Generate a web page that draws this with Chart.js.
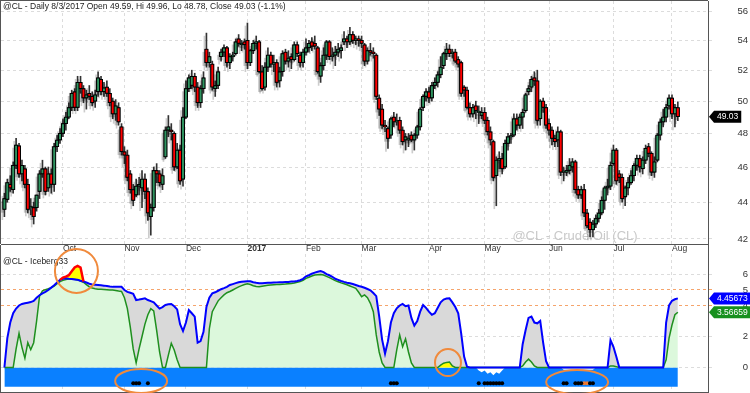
<!DOCTYPE html>
<html>
<head>
<meta charset="utf-8">
<script src="https://cdn.jsdelivr.net/npm/chart.js@4.4.1/dist/chart.umd.min.js"></script>
<style>
  html, body { margin: 0; padding: 0; background: #fff; }
  #wrap { position: relative; width: 750px; height: 393px; overflow: hidden; }
  #priceBox { position: absolute; left: 0; top: 0; width: 750px; height: 245px; }
  #indBox { position: absolute; left: 0; top: 245px; width: 750px; height: 148px; }
</style>
</head>
<body>
<div id="wrap">
  <div id="priceBox"><canvas id="priceChart"></canvas></div>
  <div id="indBox"><canvas id="indChart"></canvas></div>
</div>
<script>
// daily bars, 2 Sep 2016 .. 3 Aug 2017 (index = trading day)
const opens = [
  43.6, 44.15, 45.0, 44.7, 46.1, 47.25, 45.6, 45.9, 45.0, 43.7,
  43.7, 43.7, 44.6, 45.6, 45.9, 44.8, 45.6, 45.0, 47.2, 47.6,
  48.0, 48.6, 49.0, 49.6, 50.6, 49.6, 51.2, 50.8, 50.2, 50.5,
  50.3, 50.0, 50.6, 51.4, 50.6, 50.9, 50.5, 50.0, 49.2, 49.6,
  48.4, 46.9, 46.7, 45.6, 44.7, 44.4, 44.9, 44.8, 45.3, 44.6,
  43.2, 43.7, 45.8, 45.6, 45.0, 46.6, 48.2, 48.2, 48.0, 46.0,
  47.0, 45.3, 49.0, 50.8, 51.0, 51.6, 50.9, 49.9, 50.8, 53.4,
  52.5, 52.4, 50.8, 51.0, 52.9, 53.2, 53.5, 52.5, 52.9, 53.1,
  54.1, 53.7, 53.9, 54.0, 52.5, 53.3, 53.8, 53.9, 51.9, 50.9,
  52.2, 53.0, 52.4, 52.5, 51.3, 51.9, 53.2, 52.6, 52.9, 52.7,
  53.7, 53.0, 52.5, 53.2, 53.5, 53.9, 53.8, 53.5, 51.6, 52.3,
  53.0, 53.9, 52.9, 53.0, 53.2, 53.3, 53.9, 54.1, 53.9, 54.4,
  54.0, 54.1, 54.0, 53.7, 52.6, 53.3, 53.2, 53.0, 50.2, 49.5,
  48.5, 48.3, 47.9, 49.0, 48.7, 48.8, 48.2, 47.6, 47.6, 47.9,
  47.6, 47.9, 48.4, 49.6, 50.3, 50.6, 50.2, 51.0, 51.2, 51.7,
  52.3, 53.1, 53.4, 53.1, 53.2, 52.7, 52.5, 50.9, 50.7, 49.6,
  49.2, 49.7, 49.3, 49.1, 49.3, 48.8, 48.1, 47.5, 45.5, 46.4,
  46.5, 46.0, 47.4, 47.8, 47.9, 48.9, 48.5, 49.0, 49.4, 50.6,
  50.9, 51.5, 51.3, 48.9, 50.0, 49.6, 48.6, 48.2, 47.7, 47.6,
  48.1, 45.7, 45.7, 45.8, 46.0, 46.3, 44.7, 44.4, 44.7, 43.4,
  42.9, 42.5, 42.8, 43.1, 43.4, 44.1, 44.8, 44.9, 46.2, 47.0,
  45.6, 45.4, 44.3, 44.8, 45.1, 45.5, 46.1, 46.5, 45.9, 46.4,
  47.2, 46.8, 45.7, 46.4, 47.9, 48.7, 49.0, 49.7, 50.2, 49.2, 49.59
];
const highs = [
  44.5, 45.3, 45.5, 46.3, 47.7, 47.4, 46.4, 46.1, 45.3, 44.2,
  44.0, 44.4, 45.8, 46.4, 46.0, 46.0, 45.9, 47.4, 47.9, 48.3,
  48.9, 49.3, 49.9, 50.7, 50.8, 51.6, 51.6, 51.0, 50.7, 51.0,
  50.6, 50.7, 51.9, 51.6, 51.2, 51.3, 50.8, 50.2, 50.1, 49.9,
  48.6, 47.2, 47.0, 45.8, 45.0, 45.3, 45.4, 45.8, 45.6, 44.8,
  43.9, 46.0, 46.2, 45.8, 45.9, 48.4, 49.1, 48.6, 48.1, 47.4,
  47.3, 49.6, 51.3, 51.7, 52.0, 51.8, 51.2, 51.0, 51.9, 54.5,
  53.2, 52.6, 51.3, 52.2, 53.4, 53.7, 53.6, 53.1, 53.2, 54.1,
  54.4, 54.0, 54.1, 55.2, 53.4, 54.0, 54.3, 54.0, 52.3, 52.5,
  53.5, 53.2, 53.0, 52.7, 52.2, 53.3, 53.4, 53.3, 53.1, 53.9,
  53.9, 53.2, 53.4, 54.1, 54.0, 54.2, 54.3, 53.6, 52.5, 53.5,
  54.0, 54.0, 53.5, 53.6, 53.8, 53.7, 54.6, 54.3, 54.9, 54.6,
  54.3, 54.3, 54.3, 53.8, 53.5, 53.8, 53.5, 53.1, 50.4, 49.8,
  48.8, 48.4, 49.0, 49.3, 49.2, 49.0, 48.4, 48.0, 48.0, 48.1,
  48.0, 48.5, 49.6, 50.4, 50.8, 50.9, 51.2, 51.5, 51.9, 52.9,
  53.2, 53.8, 53.7, 53.4, 53.4, 52.9, 52.6, 51.0, 50.9, 49.9,
  49.8, 50.0, 49.7, 49.6, 49.6, 49.0, 48.4, 47.6, 46.6, 46.9,
  46.8, 47.6, 48.0, 48.0, 49.2, 49.2, 49.2, 49.5, 50.5, 51.0,
  51.6, 51.9, 52.0, 50.1, 50.2, 49.8, 48.9, 48.4, 47.9, 48.4,
  48.2, 46.0, 46.1, 46.5, 46.5, 46.4, 44.9, 44.9, 45.0, 43.6,
  43.1, 43.0, 43.3, 43.6, 44.3, 44.9, 45.3, 46.3, 47.3, 47.1,
  45.8, 45.6, 44.9, 45.4, 45.8, 46.2, 46.7, 46.7, 46.6, 47.3,
  47.4, 46.9, 46.6, 48.0, 48.9, 49.5, 49.8, 50.4, 50.4, 49.8, 49.96
];
const lows = [
  43.2, 44.0, 44.6, 44.5, 45.9, 45.4, 45.2, 44.8, 43.4, 43.3,
  42.8, 43.5, 44.2, 45.4, 44.4, 44.6, 44.5, 44.6, 46.9, 47.4,
  47.8, 48.2, 48.9, 49.4, 49.4, 49.4, 50.5, 49.9, 49.5, 50.1,
  49.7, 49.6, 50.3, 50.4, 50.3, 50.3, 49.7, 48.9, 48.8, 48.5,
  46.7, 46.2, 45.2, 44.5, 43.8, 44.3, 44.4, 43.7, 44.2, 43.0,
  42.2, 43.5, 45.1, 44.9, 44.7, 46.5, 47.8, 47.6, 45.8, 45.9,
  45.0, 44.9, 48.9, 50.6, 50.8, 50.6, 49.6, 49.6, 50.5, 52.2,
  52.2, 50.7, 50.3, 50.8, 52.6, 52.9, 52.2, 52.1, 52.6, 53.0,
  53.6, 53.3, 53.4, 52.1, 52.3, 53.1, 53.4, 51.8, 50.7, 50.7,
  51.9, 52.2, 51.9, 50.9, 50.9, 51.6, 52.4, 52.2, 52.1, 52.6,
  52.9, 52.2, 52.2, 53.0, 53.2, 53.3, 53.4, 51.8, 51.2, 52.0,
  52.7, 52.7, 52.6, 52.3, 52.9, 52.8, 53.7, 53.5, 53.7, 53.8,
  53.7, 53.6, 53.5, 52.3, 52.4, 53.0, 52.8, 50.1, 49.1, 48.3,
  48.1, 47.1, 47.7, 48.4, 48.5, 48.0, 47.3, 47.0, 47.2, 47.5,
  47.0, 47.7, 48.2, 49.4, 50.0, 49.9, 50.0, 50.8, 50.9, 51.5,
  52.1, 52.7, 52.9, 52.8, 52.5, 52.2, 50.3, 50.3, 49.5, 49.0,
  49.0, 48.9, 48.6, 48.9, 48.6, 47.9, 47.3, 45.2, 43.8, 45.9,
  45.6, 45.9, 47.0, 47.4, 47.8, 48.2, 48.3, 48.3, 49.3, 50.4,
  50.6, 51.0, 48.5, 48.5, 49.3, 48.3, 47.9, 47.3, 47.2, 47.2,
  45.5, 45.2, 45.5, 45.6, 45.7, 44.5, 44.2, 44.2, 43.2, 42.6,
  42.1, 42.1, 42.6, 42.9, 43.3, 43.6, 44.4, 44.7, 46.1, 45.0,
  45.1, 44.0, 43.8, 44.4, 45.0, 45.2, 45.8, 45.7, 45.6, 46.2,
  46.6, 45.5, 45.4, 46.3, 47.6, 48.4, 48.7, 49.5, 48.9, 48.4, 48.78
];
const closes = [
  44.2, 45.1, 44.8, 46.1, 47.3, 45.6, 46.1, 45.0, 43.6, 43.7,
  43.2, 44.4, 45.6, 45.9, 44.6, 45.6, 45.0, 47.2, 47.6, 48.0,
  48.6, 49.0, 49.6, 50.5, 49.6, 51.2, 50.8, 50.2, 50.4, 50.3,
  49.9, 50.4, 51.5, 50.6, 50.85, 50.5, 49.9, 49.2, 49.7, 48.7,
  46.9, 46.7, 45.4, 44.7, 44.1, 44.9, 45.0, 45.3, 44.6, 43.4,
  43.7, 45.8, 45.6, 45.1, 45.5, 48.2, 48.4, 48.1, 46.0, 47.0,
  45.2, 49.0, 50.8, 51.5, 51.6, 50.9, 49.9, 50.8, 51.5, 52.5,
  52.9, 50.9, 51.0, 51.9, 53.2, 53.5, 52.5, 52.9, 53.0, 53.9,
  53.8, 53.8, 53.7, 52.5, 53.3, 53.8, 53.9, 51.9, 50.8, 52.2,
  53.0, 52.4, 52.5, 51.2, 51.9, 53.1, 52.6, 52.8, 52.7, 53.7,
  53.1, 52.5, 53.2, 53.5, 53.8, 53.6, 53.6, 51.9, 52.3, 53.0,
  53.9, 52.9, 53.0, 53.2, 53.4, 53.5, 54.1, 53.9, 54.4, 54.0,
  54.1, 54.0, 53.8, 52.6, 53.3, 53.2, 53.1, 50.3, 49.5, 48.5,
  48.4, 47.7, 48.9, 48.7, 48.8, 48.2, 47.5, 47.8, 47.7, 47.6,
  47.9, 48.4, 49.5, 50.3, 50.6, 50.2, 51.0, 51.2, 51.7, 52.2,
  53.1, 53.4, 53.1, 53.2, 52.6, 52.4, 50.5, 50.7, 49.6, 49.2,
  49.6, 49.4, 49.3, 49.3, 48.8, 48.1, 47.6, 45.4, 46.4, 46.5,
  45.9, 47.4, 47.8, 47.85, 48.9, 48.5, 49.0, 49.3, 50.4, 50.8,
  51.4, 51.3, 48.8, 50.0, 49.6, 48.5, 48.2, 47.7, 47.5, 48.1,
  45.7, 45.7, 45.8, 46.1, 46.3, 44.7, 44.4, 44.7, 43.4, 42.7,
  42.5, 42.8, 43.1, 43.4, 44.1, 44.8, 44.9, 46.1, 47.0, 45.2,
  45.4, 44.2, 44.8, 45.1, 45.5, 46.1, 46.5, 46.0, 46.4, 47.1,
  46.8, 45.7, 46.3, 47.9, 48.7, 49.0, 49.6, 50.2, 49.2, 49.6, 49.03
];

const priceTicks = [42, 44, 46, 48, 50, 52, 54, 56];
const monthLabels = ['Oct', 'Nov', 'Dec', '2017', 'Feb', 'Mar', 'Apr', 'May', 'Jun', 'Jul', 'Aug'];
const monthIdx = [20, 41, 62, 83, 103, 122, 145, 164, 186, 208, 228];

// Iceberg33 indicator
const iceHigh = [
  0, 1.9, 2.9, 3.5, 3.8, 4.0, 4.1, 4.14, 4.18, 4.22,
  4.3, 4.5, 4.66, 4.78, 4.88, 5.0, 5.15, 5.3, 5.48, 5.65,
  5.72, 5.75, 5.72, 5.7, 5.68, 5.66, 5.6, 5.55, 5.48, 5.4,
  5.36, 5.34, 5.32, 5.3, 5.28, 5.25, 5.22, 5.2, 5.2, 5.2,
  5.2, 5.0, 4.88, 4.82, 4.75, 4.35, 4.38, 4.42, 4.46, 4.35,
  4.28, 4.2, 4.0, 3.8, 3.9, 4.03, 4.08, 4.1, 3.95, 3.75,
  2.8, 2.35, 2.9, 3.7, 3.5, 3.28, 1.6, 1.7, 2.3, 3.9,
  4.5, 4.78, 4.85, 4.95, 5.05, 5.12, 5.2, 5.32, 5.38, 5.44,
  5.5, 5.53, 5.55, 5.57, 5.56, 5.5, 5.46, 5.43, 5.44, 5.45,
  5.46, 5.47, 5.48, 5.49, 5.5, 5.5, 5.51, 5.52, 5.54, 5.55,
  5.58, 5.63, 5.72, 5.88, 5.95, 6.05, 6.12, 6.17, 6.22, 6.15,
  6.02, 5.95, 5.85, 5.72, 5.65, 5.58, 5.52, 5.47, 5.43, 5.38,
  5.32, 5.26, 5.21, 5.14, 5.06, 4.98, 4.8, 4.6, 3.3, 1.8,
  0.9, 1.7, 2.9, 3.5, 3.82, 4.0, 4.1, 3.95, 4.0, 3.2,
  2.7, 3.0, 3.6, 4.03, 3.85, 3.6, 3.4, 3.5, 3.85, 4.2,
  4.38, 4.45, 4.46, 4.2, 3.9, 3.5, 2.2, 0.7, 0.05, 0,
  0, 0, 0, 0, 0, 0, 0, 0, 0, 0,
  0, 0, 0, 0, 0, 0, 0, 1.5, 2.4, 3.2,
  3.28, 2.9, 2.85, 3.0, 1.6, 0.4, 0, 0, 0, 0,
  0, 0, 0, 0, 0, 0, 0, 0, 0, 0,
  0, 0, 0, 0, 0, 0, 0, 1.77, 1.34, 0.7,
  0, 0, 0, 0, 0, 0, 0, 0, 0, 0,
  0, 0, 0, 0, 0, 0, 2.9, 4.0, 4.3, 4.4, 4.45673
];
const iceLow = [
  0, 0, 0, 0, 1.2, 2.2, 1.3, 0.6, 1.6, 1.15,
  1.6, 3.0, 4.6, 4.95, 5.02, 5.08, 5.15, 5.25, 5.4, 5.54,
  5.62, 5.68, 5.7, 5.7, 5.69, 5.65, 5.58, 5.5, 5.35, 5.2,
  5.13, 5.08, 5.05, 5.04, 5.03, 5.02, 5.0, 5.0, 4.97, 4.93,
  4.9, 4.5, 3.8, 2.6, 1.2, 0.3, 1.2, 2.0, 2.8, 3.4,
  3.8, 3.65, 2.4, 1.0, 0, 0, 0.8, 1.56, 1.13, 0.5,
  0, 0, 0, 0, 0, 0, 0, 0, 0, 0,
  2.5, 3.6, 3.95, 4.3, 4.5, 4.68, 4.82, 4.9, 5.0, 5.1,
  5.2, 5.28, 5.35, 5.4, 5.35, 5.27, 5.22, 5.21, 5.24, 5.27,
  5.3, 5.32, 5.34, 5.35, 5.36, 5.37, 5.38, 5.4, 5.42, 5.45,
  5.5, 5.54, 5.62, 5.75, 5.82, 5.9, 5.96, 5.98, 6.0, 5.96,
  5.88, 5.8, 5.7, 5.6, 5.53, 5.46, 5.4, 5.34, 5.26, 5.18,
  5.1, 4.85, 4.57, 4.68, 4.5, 4.14, 3.6, 2.1, 1.0, 0.3,
  0, 0, 0, 0, 1.13, 2.1, 1.34, 1.85, 1.0, 0.3,
  0, 0, 0, 0, 0, 0, 0, 0, 0, 0.15,
  0.28, 0.33, 0.35, 0.1, 0, 0, 0, 0, 0, 0,
  0, 0, 0, 0, 0, 0, 0, 0, 0, 0,
  0, 0, 0, 0, 0, 0, 0, 0.1, 0.35, 0.54,
  0.35, 0.1, 0, 0, 0, 0, 0, 0, 0, 0,
  0, 0, 0, 0, 0, 0, 0, 0, 0, 0,
  0, 0, 0, 0, 0, 0, 0, 0.1, 0.1, 0.05,
  0, 0, 0, 0, 0, 0, 0, 0, 0, 0,
  0, 0, 0, 0, 0, 0, 0.5, 1.9, 2.74, 3.4, 3.56659
];
const peakStart = 19;
const peakVals = [5.65, 5.8, 5.86, 5.95, 6.2, 6.45, 6.55, 6.45, 5.55];
const bumpStart = 148;
const bumpVals = [0, 0.15, 0.28, 0.33, 0.35, 0.1, 0];
const dipStartA = 161;
const dipValsA = [0, -0.2, -0.3, -0.2, -0.4, -0.3, -0.5, -0.3, -0.4, -0.2, 0];
const dipStartB = 190;
const dipValsB = [0, -0.15, -0.15, -0.15, -0.15, -0.15, -0.15, -0.15, -0.15, -0.15, -0.15, -0.15, 0];
const blackDots = [44, 45, 46, 49, 132, 133, 134, 162, 164, 165, 166, 167, 168, 169, 170, 191, 192, 195, 196, 197, 200, 201];
const orangeDots = [198, 199];
const DOT_LEVEL = -1.02;
const BAND_LOW = -1.24;
const indTicks = [0, 2, 4, 5, 6];

const X_MIN = -1.16, X_MAX = 240.3;
const FONT = '"Liberation Sans", Arial, sans-serif';
const GREEN = '#2f9460', RED = '#ff0000';
Chart.defaults.font.family = FONT;

const xy = (vals, start = 0) => vals.map((v, k) => ({ x: start + k, y: v }));
const bodyData = closes.map((c, i) => ({ x: i, y: [opens[i], c] }));
const wickData = closes.map((c, i) => ({ x: i, y: [lows[i], highs[i]] }));
const bodyColors = closes.map((c, i) => (c >= opens[i] ? GREEN : RED));

function monthTicks(scale) {
  scale.ticks = monthIdx.map(v => ({ value: v }));
}
// keep the plot area edge to edge (no room reserved for end labels)
function noPad(s) {
  s.paddingTop = 0; s.paddingBottom = 0; s.paddingLeft = 0; s.paddingRight = 0;
}

function drawTag(ctx, x, y, text, bg) {
  ctx.save();
  ctx.font = '8.5px ' + FONT;
  const w = ctx.measureText(text).width + 6;
  ctx.fillStyle = bg;
  ctx.beginPath();
  ctx.moveTo(x, y);
  ctx.lineTo(x + 5, y - 6);
  ctx.lineTo(x + 5 + w, y - 6);
  ctx.lineTo(x + 5 + w, y + 6);
  ctx.lineTo(x + 5, y + 6);
  ctx.closePath();
  ctx.fill();
  ctx.fillStyle = '#fff';
  ctx.textAlign = 'left';
  ctx.textBaseline = 'middle';
  ctx.fillText(text, x + 8, y + 0.5);
  ctx.restore();
}

// candle shadows + watermark + frame for the price panel
const pricePlugin = {
  id: 'pricePlugin',
  beforeDatasetsDraw(chart) {
    const { ctx, chartArea } = chart;
    ctx.save();
    ctx.font = '13px ' + FONT;
    ctx.fillStyle = '#c9c9c9';
    ctx.textAlign = 'center';
    ctx.textBaseline = 'middle';
    ctx.fillText('@CL - Crude Oil (CL)', chartArea.right - 133, chartArea.bottom - 8);
    ctx.restore();
  },
  beforeDatasetDraw(chart, args) {
    if (args.index === 0) return;
    const ctx = chart.ctx;
    ctx.save();
    ctx.shadowColor = 'rgba(0,0,0,0.2)';
    ctx.shadowOffsetX = -2;
    ctx.shadowOffsetY = 3;
    ctx.shadowBlur = 0;
  },
  afterDatasetDraw(chart, args) {
    if (args.index === 0) return;
    chart.ctx.restore();
  },
  afterDraw(chart) {
    const { ctx, chartArea, scales } = chart;
    ctx.save();
    ctx.strokeStyle = '#555';
    ctx.lineWidth = 1;
    ctx.beginPath();
    ctx.moveTo(0, 0.5); ctx.lineTo(chartArea.right, 0.5);
    ctx.moveTo(0.5, 0); ctx.lineTo(0.5, chartArea.bottom);
    ctx.stroke();
    ctx.fillStyle = '#222';
    ctx.font = '8.5px ' + FONT;
    ctx.textBaseline = 'middle';
    ctx.fillText('@CL - Daily 8/3/2017 Open 49.59, Hi 49.96, Lo 48.78, Close 49.03 (-1.1%)', 3, 6.5);
    ctx.restore();
    const last = closes[closes.length - 1];
    drawTag(ctx, chartArea.right + 1, scales.y.getPixelForValue(last), last.toFixed(2), '#000');
  }
};

new Chart(document.getElementById('priceChart'), {
  type: 'bar',
  data: {
    datasets: [
      { data: bodyData, backgroundColor: bodyColors, borderColor: '#000', borderWidth: 1,
        borderSkipped: false, barThickness: 3.3, grouped: false, minBarLength: 1, order: 0 },
      { data: bodyData, backgroundColor: '#000', borderWidth: 0,
        barThickness: 3.3, grouped: false, minBarLength: 1, order: 1 },
      { data: wickData, backgroundColor: '#333', borderWidth: 0,
        barThickness: 1, grouped: false, order: 2 }
    ]
  },
  options: {
    responsive: true,
    maintainAspectRatio: false,
    animation: false,
    devicePixelRatio: 1,
    layout: { autoPadding: false, padding: { left: 1, right: 2, top: 1, bottom: 0 } },
    plugins: { legend: { display: false }, tooltip: { enabled: false } },
    scales: {
      x: {
        type: 'linear', min: X_MIN, max: X_MAX, offset: false,
        afterBuildTicks: monthTicks,
        afterFit: s => { s.height = 1; noPad(s); },
        ticks: { display: false },
        grid: { color: '#dcdcdc', drawTicks: false, offset: false },
        border: { display: true, color: '#555', dash: [3, 3] }
      },
      y: {
        type: 'logarithmic', position: 'right', min: 41.73, max: 56.76,
        afterBuildTicks: s => { s.ticks = priceTicks.map(v => ({ value: v })); },
        afterFit: s => { s.width = 40; noPad(s); },
        ticks: { callback: v => String(v), color: '#333', font: { size: 9.5 }, crossAlign: 'far', autoSkip: false, padding: 2 },
        grid: { color: '#dcdcdc', tickLength: 4 },
        border: { display: true, color: '#555', dash: [3, 3] }
      }
    }
  },
  plugins: [pricePlugin]
});

// annotations on the indicator panel: [bar index, value, rx, ry]
const rings = [[24.6, 6.23, 21.5, 22], [46.7, -0.87, 26, 12], [151.5, 0.32, 13, 13.5], [195.6, -0.94, 31, 12]];

const indPlugin = {
  id: 'indPlugin',
  afterDraw(chart) {
    const { ctx, chartArea, scales } = chart;
    ctx.save();
    ctx.strokeStyle = '#555';
    ctx.lineWidth = 1;
    ctx.beginPath();
    ctx.moveTo(0.5, 0); ctx.lineTo(0.5, chartArea.bottom);
    ctx.moveTo(0, chartArea.bottom + 0.5); ctx.lineTo(chartArea.right, chartArea.bottom + 0.5);
    ctx.moveTo(chartArea.right + 0.5, 0); ctx.lineTo(chartArea.right + 0.5, chartArea.top);
    ctx.stroke();
    ctx.fillStyle = '#222';
    ctx.font = '8.5px ' + FONT;
    ctx.textBaseline = 'middle';
    ctx.fillText('@CL - Iceberg33', 3, chartArea.top + 8);
    ctx.strokeStyle = '#f08a3c';
    ctx.lineWidth = 2;
    rings.forEach(([i, v, rx, ry]) => {
      ctx.beginPath();
      ctx.ellipse(scales.x.getPixelForValue(i), scales.y.getPixelForValue(v), rx, ry, 0, 0, Math.PI * 2);
      ctx.stroke();
    });
    ctx.restore();
    const n = iceHigh.length - 1;
    drawTag(ctx, chartArea.right + 1, scales.y.getPixelForValue(iceLow[n]), iceLow[n].toFixed(5), '#17901e');
    drawTag(ctx, chartArea.right + 1, scales.y.getPixelForValue(iceHigh[n]), iceHigh[n].toFixed(5), '#0000ff');
  }
};

const lineBase = { pointRadius: 0, tension: 0, borderWidth: 0 };
new Chart(document.getElementById('indChart'), {
  type: 'line',
  data: {
    datasets: [
      { ...lineBase, data: blackDots.map(i => ({ x: i, y: DOT_LEVEL })), showLine: false,
        pointRadius: 2, pointBackgroundColor: '#000', pointBorderWidth: 0, order: 0 },
      { ...lineBase, data: orangeDots.map(i => ({ x: i, y: DOT_LEVEL })), showLine: false,
        pointRadius: 2, pointBackgroundColor: '#f07a30', pointBorderWidth: 0, order: 0 },
      { ...lineBase, data: xy(peakVals, peakStart), borderColor: '#ff0000', borderWidth: 2.5,
        fill: { target: 4, above: '#ffff00', below: 'rgba(0,0,0,0)' }, order: 1 },
      { ...lineBase, data: xy(bumpVals, bumpStart), backgroundColor: '#ffff00', fill: 'origin', order: 2 },
      { ...lineBase, data: xy(iceHigh), borderColor: '#0000ff', borderWidth: 2,
        fill: { target: 5, above: '#d9d9d9', below: '#d9d9d9' }, order: 3 },
      { ...lineBase, data: xy(iceLow), borderColor: '#1e8f1e', borderWidth: 1.5,
        backgroundColor: '#dcf8dc', fill: 'origin', order: 4 },
      { ...lineBase, data: xy(dipValsA, dipStartA), backgroundColor: '#fff', fill: 'origin', order: 5 },
      { ...lineBase, data: xy(dipValsB, dipStartB), backgroundColor: '#fff', fill: 'origin', order: 5 },
      { ...lineBase, data: closes.map((c, i) => ({ x: i, y: BAND_LOW })), backgroundColor: '#0a80ff', fill: 'origin', order: 6 }
    ]
  },
  options: {
    responsive: true,
    maintainAspectRatio: false,
    animation: false,
    devicePixelRatio: 1,
    layout: { autoPadding: false, padding: { left: 1, right: 2, top: 0, bottom: 1 } },
    plugins: {
      legend: { display: false },
      tooltip: { enabled: false },
      filler: { drawTime: 'beforeDatasetsDraw' }
    },
    scales: {
      x: {
        type: 'linear', position: 'top', min: X_MIN, max: X_MAX, offset: false,
        afterBuildTicks: monthTicks,
        afterFit: s => { s.height = 9; noPad(s); },
        ticks: {
          callback: v => monthLabels[monthIdx.indexOf(v)],
          align: 'start', maxRotation: 0, autoSkip: false, padding: 0, color: '#333',
          font: c => ({ size: 8.5, weight: c.tick && c.tick.value === 83 ? 'bold' : 'normal' })
        },
        grid: { color: '#dcdcdc', drawTicks: false },
        border: { display: false, dash: [3, 3] }
      },
      y: {
        position: 'right', min: -1.58, max: 7.32,
        afterBuildTicks: s => { s.ticks = indTicks.map(v => ({ value: v })); },
        afterFit: s => { s.width = 40; noPad(s); },
        ticks: { color: '#333', font: { size: 9.5 }, crossAlign: 'far', autoSkip: false, padding: 2 },
        grid: {
          color: c => (c.tick && (c.tick.value === 4 || c.tick.value === 5) ? '#f5a46c' : '#dcdcdc'),
          tickLength: 4
        },
        border: { display: true, color: '#555', dash: [3, 3] }
      }
    }
  },
  plugins: [indPlugin]
});
</script>
</body>
</html>
